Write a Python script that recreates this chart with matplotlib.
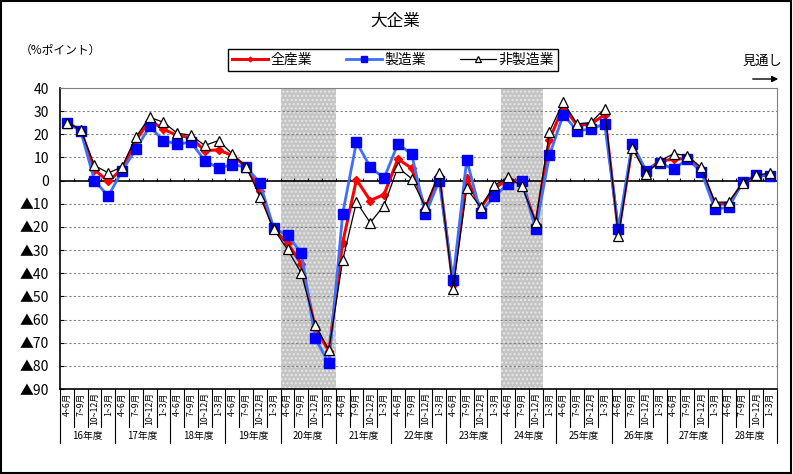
import matplotlib
matplotlib.use("Agg")
import matplotlib.pyplot as plt
import matplotlib.transforms as mtransforms
from matplotlib.patches import Rectangle

plt.rcParams['font.family'] = ['Noto Sans CJK JP', 'DejaVu Sans']

# データ（大企業 業況判断DI、%ポイント）
years = ['16年度', '17年度', '18年度', '19年度', '20年度', '21年度', '22年度',
         '23年度', '24年度', '25年度', '26年度', '27年度', '28年度']
quarters = ['4~6月', '7~9月', '10~12月', '1~3月']

all_ind = [25, 22, 4.7, -0.3, 5, 17.2, 26.2, 22.2, 19.5, 18.6, 12.9, 13.3, 10.8, 6,
           -4.3, -21, -27, -36, -63.4, -73.7, -26.8, 0.4, -8.6, -6, 9.3, 5.4, -12,
           2.3, -45, 1.1, -11.8, -3.4, 0.7, -0.7, -18.6, 17.6, 32.2, 23.8, 24.4,
           28.5, -22.7, 14.6, 4.2, 8.5, 9.2, 9.6, 5, -10.2, -10, -1.1, 2, 2.4]
manuf = [25, 21.5, 0, -6.7, 4.2, 13.6, 23.4, 17.3, 15.8, 16.6, 8.6, 5.4, 6.9, 5.9,
         -1, -20.5, -23.7, -31.1, -68, -78.9, -14.3, 16.6, 5.9, 1, 15.8, 11.5,
         -14.6, 0, -42.9, 9, -13.9, -6.7, -1.4, 0, -21, 11, 28.5, 21.6, 22.2, 24.5,
         -20.8, 15.9, 4.3, 7.7, 4.9, 9.3, 3.9, -12.3, -11.6, -0.7, 2.4, 2.2]
nonmanuf = [25, 22, 6.6, 3.3, 5.9, 18.8, 27.4, 25.2, 20.5, 19.6, 15.2, 17.3, 11.5, 6,
            -6.9, -21, -29.7, -40, -62.2, -73.1, -34.4, -9.2, -18.2, -10.8, 5.7, 0.9,
            -11.5, 3.4, -46.9, -3.4, -11.5, -2, 1.4, -2.4, -17.8, 21.2, 34, 24.5,
            25.1, 31.1, -24.1, 14.3, 3, 8.5, 11.6, 10.8, 5.7, -9.3, -9.3, -1.1, 2.4, 3.2]

# 景気後退期（四半期インデックス：開始, 終了）
shade = [(16, 20), (32, 35)]

yticks = list(range(40, -91, -10))
ylabels = [str(v) if v >= 0 else '▲' + str(-v) for v in yticks]

n = len(all_ind)
x = list(range(n))

fig = plt.figure(figsize=(7.93, 4.74), dpi=100)
ax = fig.add_axes([60 / 793, 85 / 474, 717 / 793, 301 / 474])

# 網掛け
for s, e in shade:
    ax.axvspan(s - 0.5, e - 0.5, facecolor='#c4c4c4', hatch='....', edgecolor='#e8e8e8',
               linewidth=0, zorder=0)

# グリッド
for v in yticks:
    if v not in (0, -90, 40):
        ax.axhline(v, color='#808080', linestyle=(0, (2, 2)), linewidth=0.8, zorder=1)
ax.axhline(0, color='black', linewidth=1.2, zorder=2)
ax.vlines([i + 0.5 for i in range(n - 1)], 0, 1.0, color='black', linewidth=0.8, zorder=2)

ax.plot(x, all_ind, color='#ff0000', linewidth=2.2, marker='D', markersize=4,
        markerfacecolor='#ff0000', markeredgecolor='#ff0000', label='全産業', zorder=4)
ax.plot(x, manuf, color='#3f6fff', linewidth=2, marker='s', markersize=7,
        markerfacecolor='#0000ff', markeredgecolor='#0000ff', label='製造業', zorder=5)
ax.plot(x, nonmanuf, color='black', linewidth=0.9, marker='^', markersize=7,
        markerfacecolor='white', markeredgecolor='black', markeredgewidth=0.9,
        label='非製造業', zorder=6)

ax.set_xlim(-0.5, n - 0.5)
ax.set_ylim(-90, 40)
ax.set_yticks(yticks)
ax.set_yticklabels(ylabels, fontsize=10)
ax.tick_params(axis='y', direction='in', length=3, pad=8)
ax.set_xticks([])
for sp in ['top', 'right']:
    ax.spines[sp].set_color('#808080')
    ax.spines[sp].set_linewidth(0.8)
ax.spines['left'].set_linewidth(1.2)
ax.spines['bottom'].set_linewidth(1.2)

# 横軸ラベル
trans = mtransforms.blended_transform_factory(ax.transData, fig.transFigure)
for i in range(n):
    ax.text(i, 0.172, quarters[i % 4], transform=trans, rotation=90, ha='center',
            va='top', fontsize=6.3, clip_on=False)
for i in range(n + 1):
    bottom = 0.065 if i % 4 == 0 else 0.099
    ax.plot([i - 0.5, i - 0.5], [85 / 474, bottom], transform=trans, color='black',
            linewidth=0.8, clip_on=False)
for k, yr in enumerate(years):
    ax.text(k * 4 + 1.5, 0.080, yr, transform=trans, ha='center', va='center',
            fontsize=7, clip_on=False)

fig.text(0.498, 0.955, '大企業', ha='center', va='center', fontsize=12)
fig.text(20 / 793, 1 - 50 / 474, '（%ポイント）', ha='left', va='center', fontsize=8.5)
fig.text(762 / 793, 1 - 61 / 474, '見通し', ha='center', va='center', fontsize=9.5)
fig.add_artist(matplotlib.patches.FancyArrowPatch(
    (750 / 793, 1 - 79 / 474), (781 / 793, 1 - 79 / 474), transform=fig.transFigure,
    arrowstyle='-|>', mutation_scale=9, color='black', linewidth=1))

leg = fig.legend(loc='center', bbox_to_anchor=(393 / 793, 1 - 60 / 474), ncol=3,
                 fontsize=10, frameon=True, fancybox=False, edgecolor='black',
                 framealpha=1, handlelength=2.6, columnspacing=2.4, markerscale=0.6,
                 borderpad=0.3, handletextpad=0.2)
leg.get_frame().set_linewidth(1)

fig.add_artist(Rectangle((0.001, 0.002), 0.996, 0.995, transform=fig.transFigure,
                         fill=False, edgecolor='black', linewidth=1.5))

fig.savefig('out.png', dpi=100)
